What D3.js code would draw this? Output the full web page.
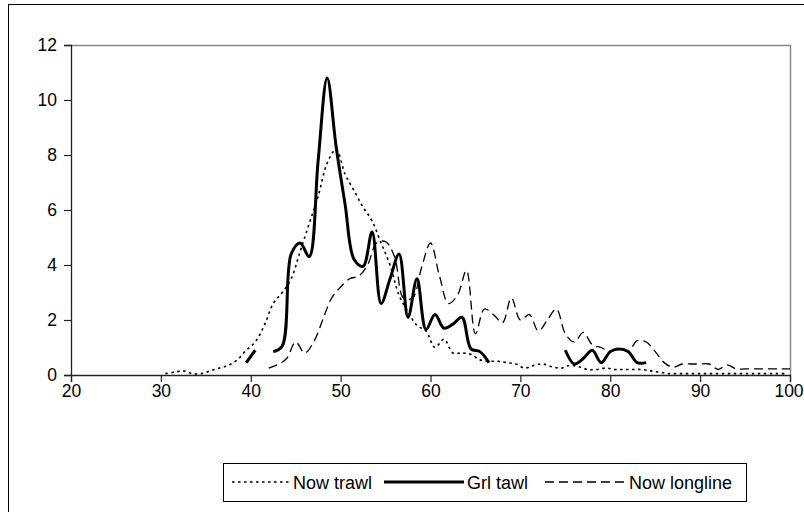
<!DOCTYPE html>
<html>
<head>
<meta charset="utf-8">
<script src="https://cdn.jsdelivr.net/npm/d3@7"></script>
<style>
  html, body { margin: 0; padding: 0; background: #fff; }
  svg { display: block; font-family: "Liberation Sans", Arial, sans-serif; }
</style>
</head>
<body>
<svg id="chart" width="804" height="512"></svg>
<script>
// Now trawl: length classes (cm) and percentage frequency
const trawlLengths = d3.range(30.5, 100, 1);
const nowTrawl = [
  0.05, 0.1, 0.15, 0.05, 0.05, 0.15, 0.25, 0.35, 0.55, 0.9,
  1.2, 1.8, 2.6, 3.0, 3.5, 4.5, 5.5, 6.5, 7.7, 8.2,
  7.3, 6.7, 6.1, 5.6, 4.8, 4.0, 2.9, 2.3, 1.8, 1.6,
  1.0, 1.3, 0.8, 0.8, 0.75, 0.55, 0.5, 0.5, 0.45, 0.4,
  0.25, 0.35, 0.4, 0.3, 0.25, 0.35, 0.3, 0.2, 0.2, 0.25,
  0.2, 0.2, 0.2, 0.2, 0.15, 0.1, 0.05, 0.05, 0.05, 0.05,
  0.05, 0.05, 0.05, 0.05, 0.05, 0.05, 0.05, 0.05, 0.05, 0.05
];

// Grl trawl: null = no sample, which breaks the line
const grlLengths = d3.range(39.5, 67, 1).concat([70], d3.range(75, 85, 1));
const grlTrawl = [
  0.45, 0.9, null, 0.85, 1.05, 4.4, 4.8, 4.3, 7.8, 10.8,
  8.3, 6.2, 4.2, 3.95, 5.2, 2.6, 3.5, 4.4, 2.1, 3.5,
  1.65, 2.2, 1.7, 1.85, 2.1, 0.95, 0.85, 0.45,
  null,
  0.9, 0.4, 0.6, 0.9, 0.45, 0.85, 0.95, 0.85, 0.45, 0.45
];

// Now longline
const longlineLengths = d3.range(42, 101, 1);
const nowLongline = [
  0.25, 0.38, 0.6, 1.2, 0.8, 1.2, 2.0, 2.8, 3.2, 3.5,
  3.6, 4.0, 4.8, 4.85, 4.3, 2.8, 2.8, 3.9, 4.8, 3.6,
  2.6, 2.9, 3.8, 1.5, 2.4, 2.2, 1.9, 2.8, 2.0, 2.2,
  1.6, 2.0, 2.4, 1.5, 1.2, 1.55, 1.1, 1.0, 0.85, 1.0,
  0.85, 1.25, 1.2, 0.85, 0.45, 0.28, 0.4, 0.4, 0.4, 0.4,
  0.2, 0.37, 0.22, 0.22, 0.22, 0.22, 0.22, 0.22, 0.22
];

const xTicks = [20, 30, 40, 50, 60, 70, 80, 90, 100];
const yTicks = [0, 2, 4, 6, 8, 10, 12];

const seriesList = [
  { name: "Now trawl", lengths: trawlLengths, values: nowTrawl, width: 1.6, dash: "2.5,3.5" },
  { name: "Grl tawl", lengths: grlLengths, values: grlTrawl, width: 3, dash: null },
  { name: "Now longline", lengths: longlineLengths, values: nowLongline, width: 1.3, dash: "9,5" }
];

const svg = d3.select("#chart");
const plot = { left: 71, right: 790, top: 45, bottom: 375 };

const x = d3.scaleLinear().domain([20, 100]).range([plot.left, plot.right]);
const y = d3.scaleLinear().domain([0, 12]).range([plot.bottom, plot.top]);

// Outer chart frame
svg.append("rect")
  .attr("x", 8.5).attr("y", 4.5).attr("width", 820).attr("height", 530)
  .attr("fill", "none").attr("stroke", "#000").attr("stroke-width", 1);

// Plot area border (top and right)
svg.append("path")
  .attr("d", `M${plot.left},${plot.top + 0.5}H${plot.right + 0.5}V${plot.bottom}`)
  .attr("fill", "none").attr("stroke", "#888").attr("stroke-width", 1.5);

// Axes
const xAxis = svg.append("g")
  .attr("transform", `translate(0,${plot.bottom})`)
  .call(d3.axisBottom(x).tickValues(xTicks).tickSize(7).tickPadding(3).tickFormat(d3.format("d")));
const yAxis = svg.append("g")
  .attr("transform", `translate(${plot.left},0)`)
  .call(d3.axisLeft(y).tickValues(yTicks).tickSize(7).tickPadding(7).tickFormat(d3.format("d")));

[xAxis, yAxis].forEach(g => {
  g.select(".domain").attr("stroke", "#222").attr("stroke-width", 1.3);
  g.selectAll(".tick line").attr("stroke", "#222").attr("stroke-width", 1.2);
  g.selectAll(".tick text")
    .attr("fill", "#000")
    .style("font-family", "'Liberation Sans', Arial, sans-serif")
    .style("font-size", "17.5px");
});
// keep the last x label inside the frame
xAxis.selectAll(".tick text").filter(d => d === 100).attr("dx", -1.5);

// Series lines
const line = d3.line()
  .defined(d => d[1] !== null)
  .x(d => x(d[0]))
  .y(d => y(d[1]))
  .curve(d3.curveCatmullRom.alpha(0.5));

seriesList.forEach(s => {
  const pts = s.lengths.map((l, i) => [l, s.values[i]]);
  svg.append("path")
    .datum(pts)
    .attr("d", line)
    .attr("fill", "none")
    .attr("stroke", "#000")
    .attr("stroke-width", s.width)
    .attr("stroke-linejoin", "round")
    .attr("stroke-dasharray", s.dash);
});

// Legend
const legend = svg.append("g");
legend.append("rect")
  .attr("x", 223.5).attr("y", 463.5).attr("width", 523).attr("height", 38)
  .attr("fill", "#fff").attr("stroke", "#000").attr("stroke-width", 1);

const legendItems = [
  { s: seriesList[0], x0: 232, x1: 290, tx: 293 },
  { s: seriesList[1], x0: 384, x1: 464, tx: 467 },
  { s: seriesList[2], x0: 545, x1: 626, tx: 629 }
];
legendItems.forEach(it => {
  legend.append("line")
    .attr("x1", it.x0).attr("x2", it.x1)
    .attr("y1", 482).attr("y2", 482)
    .attr("stroke", "#000")
    .attr("stroke-width", it.s.width)
    .attr("stroke-dasharray", it.s.dash);
  legend.append("text")
    .attr("x", it.tx).attr("y", 488.5)
    .style("font-size", "18px")
    .text(it.s.name);
});
</script>
</body>
</html>
